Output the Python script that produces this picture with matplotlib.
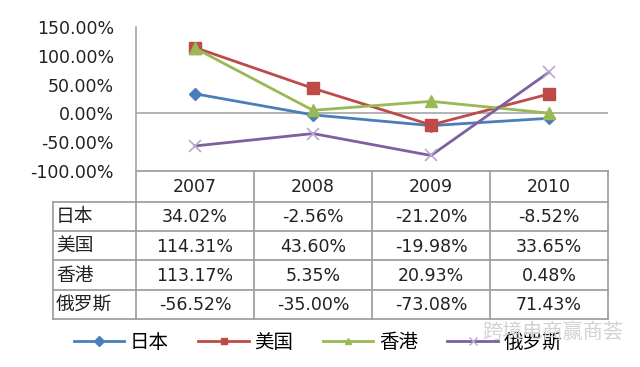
import matplotlib
matplotlib.use("Agg")
import matplotlib.pyplot as plt
from matplotlib.lines import Line2D

plt.rcParams['font.family'] = ['DejaVu Sans', 'Noto Sans CJK SC']

years = ['2007', '2008', '2009', '2010']
series_names = ['日本', '美国', '香港', '俄罗斯']
japan = [34.02, -2.56, -21.20, -8.52]
usa = [114.31, 43.60, -19.98, 33.65]
hongkong = [113.17, 5.35, 20.93, 0.48]
russia = [-56.52, -35.00, -73.08, 71.43]
yticks = [150, 100, 50, 0, -50, -100]

series = [japan, usa, hongkong, russia]
colors = ['#4A7EBB', '#BE4B48', '#98B954', '#7D60A0']
markers = ['D', 's', '^', 'x']
msizes = [6, 9, 9, 9]

W, H = 640, 367
fig = plt.figure(figsize=(6.4, 3.67), dpi=100)
fig.patch.set_facecolor('white')

def fx(x): return x / W
def fy(y): return 1 - y / H

NUM_FS = 12.5
CJK_FS = 13.5
CJK = ['Noto Sans CJK SC', 'DejaVu Sans']

# plot area
left, right, top, bottom = 136, 608, 27, 171
ax = fig.add_axes([fx(left), fy(bottom), fx(right) - fx(left), fy(top) - fy(bottom)])
xs = list(range(len(years)))
for vals, c, m, ms in zip(series, colors, markers, msizes):
    if m == 'x':
        ax.plot(xs, vals, color=c, lw=2.0, zorder=3)
        ax.plot(xs, vals, ls='none', marker='x', ms=ms, mew=1.2, color='#B8A8CC', zorder=4)
    else:
        ax.plot(xs, vals, color=c, lw=2.0, marker=m, ms=ms, mfc=c, mec=c, zorder=3)
ax.set_xlim(-0.5, len(years) - 0.5)
ax.set_ylim(-100, 150)
ax.set_yticks(yticks)
ax.set_yticklabels([f'{v:.2f}%' for v in yticks], fontsize=NUM_FS, color='#222222')
ax.tick_params(axis='y', length=0, pad=16)
ax.set_xticks([])
ax.axhline(0, color='#A6A6A6', lw=1.2, zorder=1)
for s in ['top', 'right', 'bottom']:
    ax.spines[s].set_visible(False)
ax.spines['left'].set_color('#A6A6A6')
ax.spines['left'].set_linewidth(1.2)
ax.set_facecolor('none')

# data table drawn on an overlay in pixel coordinates
ov = fig.add_axes([0, 0, 1, 1], zorder=-1)
ov.set_xlim(0, W)
ov.set_ylim(H, 0)
ov.axis('off')
col_edges = [left + (right - left) * i / len(years) for i in range(len(years) + 1)]
label_left = 53
row_edges = [171, 202, 231, 260, 290, 319]
lc = '#A0A0A0'
lw = 1.3
ov.plot([left, right], [row_edges[0], row_edges[0]], color=lc, lw=lw)
for rv in row_edges[1:]:
    ov.plot([label_left, right], [rv, rv], color=lc, lw=lw)
for cx in col_edges:
    ov.plot([cx, cx], [row_edges[0], row_edges[-1]], color=lc, lw=lw)
ov.plot([label_left, label_left], [row_edges[1], row_edges[-1]], color=lc, lw=lw)

for j, yr in enumerate(years):
    cx = (col_edges[j] + col_edges[j + 1]) / 2
    ov.text(cx, (row_edges[0] + row_edges[1]) / 2 + 1, yr, ha='center', va='center',
            fontsize=NUM_FS, color='#222222')
for i, (name, vals) in enumerate(zip(series_names, series)):
    cy = (row_edges[i + 1] + row_edges[i + 2]) / 2 + 1
    ov.text(label_left + 3, cy - 1, name, ha='left', va='center', fontsize=CJK_FS,
            color='#222222', family=CJK)
    for j, v in enumerate(vals):
        cx = (col_edges[j] + col_edges[j + 1]) / 2
        ov.text(cx, cy, f'{v:.2f}%', ha='center', va='center', fontsize=NUM_FS, color='#222222')

# legend
handles = []
for c, m, name in zip(colors, markers, series_names):
    if m == 'x':
        handles.append(Line2D([], [], color=c, lw=2.0, marker='x', ms=6, mec='#B8A8CC', label=name))
    else:
        handles.append(Line2D([], [], color=c, lw=2.0, marker=m, ms=5, mfc=c, mec=c, label=name))
leg = fig.legend(handles=handles, loc='center', bbox_to_anchor=(fx(318), fy(342)), ncol=4,
                 frameon=False, handlelength=2.6, handletextpad=0.3, columnspacing=1.5,
                 prop={'family': CJK, 'size': 14})

# watermark
fig.text(fx(482), fy(332), '跨境电商赢商荟', ha='left', va='center', fontsize=14.5,
         color='#D2D2D2', family=CJK, zorder=10)

fig.savefig('out.png', dpi=100, facecolor='white')
